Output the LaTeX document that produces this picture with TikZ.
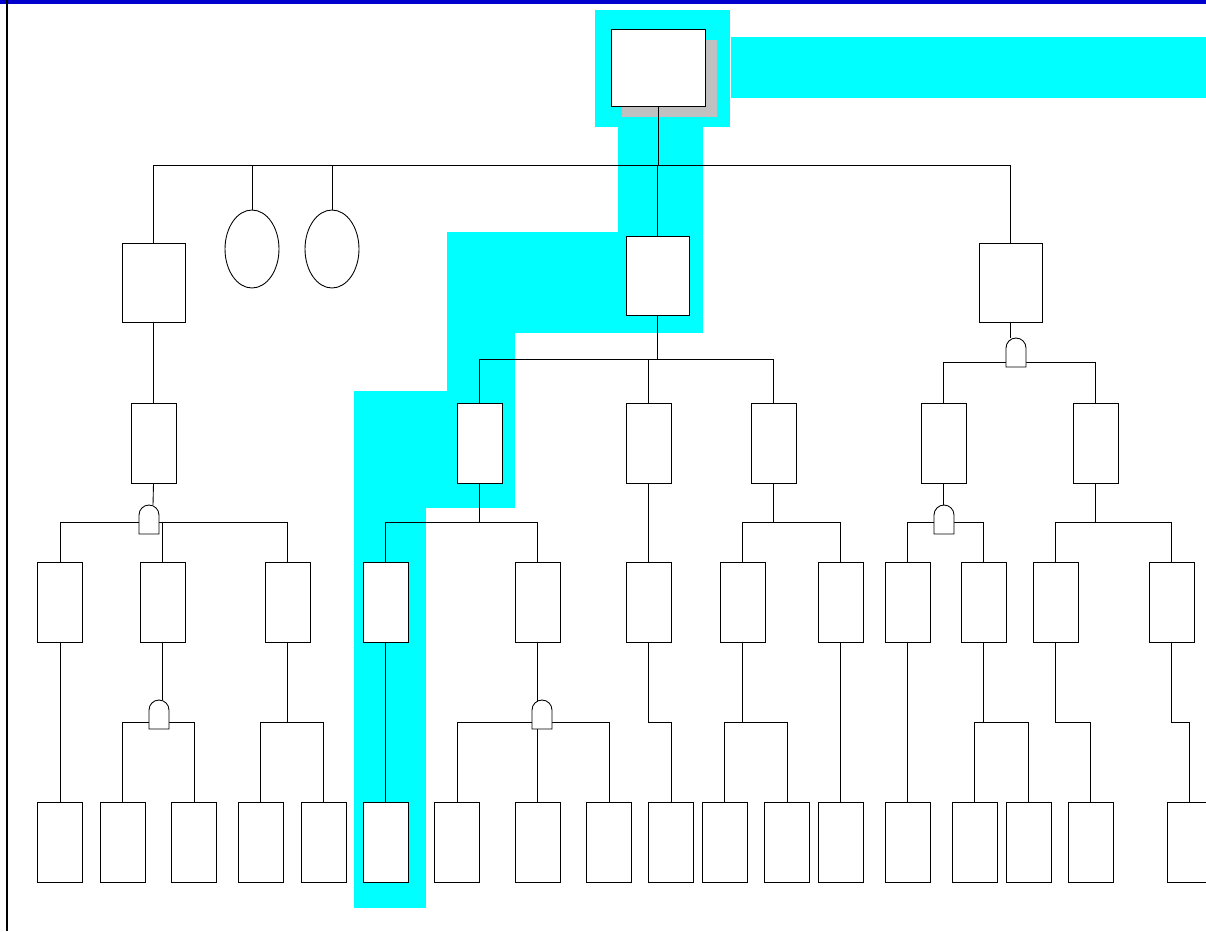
\documentclass[tikz,border=0pt]{standalone}
\usetikzlibrary{shapes.geometric}
\definecolor{hl}{RGB}{0,255,255}
\definecolor{topbar}{RGB}{0,0,205}
\definecolor{shadowgray}{RGB}{192,192,192}
\tikzset{
  wire/.style={line width=0.5pt, draw=black},
  evt/.style={draw=black, line width=0.5pt, fill=white, inner sep=0pt, minimum width=0.9cm, minimum height=1.6cm},
  bigevt/.style={evt, minimum width=1.26cm, minimum height=1.58cm},
  topevt/.style={evt, minimum width=1.88cm, minimum height=1.54cm},
  undev/.style={draw=black, line width=0.5pt, fill=white, ellipse, inner sep=0pt, minimum width=1.08cm, minimum height=1.56cm},
  gatestyle/.style={draw=black, line width=0.5pt, fill=white}
}
\newcommand{\andgate}[2]{% center x, bottom y
  \path[gatestyle] (#1-10,#2) -- (#1-10,#2-19) arc (180:0:0.2cm) -- (#1+10,#2) -- cycle;}
\begin{document}
\begin{tikzpicture}[x=0.02cm,y=-0.02cm]
\useasboundingbox (0,0) rectangle (1206,931);
\clip (0,0) rectangle (1206,931);
% highlight
\fill[hl] (595,10) rectangle (730,127);
\fill[hl] (731,37) rectangle (1206,98);
\fill[hl] (618,127) rectangle (703,333);
\fill[hl] (447,232) rectangle (703,333);
\fill[hl] (447,333) rectangle (515,508);
\fill[hl] (354,391) rectangle (515,508);
\fill[hl] (354,508) rectangle (426,908);
% frame
\fill[topbar] (0,0) rectangle (1206,3.5);
\draw[line width=0.7pt] (7,0) -- (7,931);
% shadow of top event
\fill[shadowgray] (622,40) rectangle (716.5,117);
% nodes
\node[topevt] (top) at (658,67.5) {};
\node[bigevt] (a) at (153.5,282.5) {};
\node[undev] (e1) at (252,249) {};
\node[undev] (e2) at (332,249) {};
\node[bigevt] (b) at (657.5,275.5) {};
\node[bigevt] (c) at (1010.5,282.5) {};
% level 2
\node[evt] (a1) at (153.5,443) {};
\node[evt] (b1) at (479.5,443) {};
\node[evt] (b2) at (648.5,443) {};
\node[evt] (b3) at (773.5,443) {};
\node[evt] (c1) at (943.5,443) {};
\node[evt] (c2) at (1095.5,443) {};
% level 3
\foreach \n/\x in {a11/60,a12/162.5,a13/287.5,b11/385.5,b12/537.5,b21/648.5,b31/742.5,b32/840.5,c11/907.5,c12/983.5,c21/1055.5,c22/1171.5}
  \node[evt] (\n) at (\x,602.5) {};
% level 4
\foreach \n/\x in {d1/60,d2/122.5,d3/194,d4/260.5,d5/323.5,d6/385.5,d7/457,d8/537.5,d9/609,d10/671,d11/724.5,d12/787,d13/840.5,d14/907.5,d15/974.5,d16/1028.5,d17/1090.5,d18/1189.5}
  \node[evt] (\n) at (\x,842) {};
% wires
\foreach \c in {a,e1,e2,b,c}
  \draw[wire] (top.south) -- (top.south |- 0,165) -| (\c.north);
\draw[wire] (a.south) -- (a1.north);
\draw[wire] (a1.south) -- (153,505);
\foreach \c in {a11,a12,a13}
  \draw[wire] (149,522) -| (\c.north);
\draw[wire] (a11.south) -- (d1.north);
\draw[wire] (a12.south) -- (162.5,700);
\foreach \c in {d2,d3}
  \draw[wire] (159,722) -| (\c.north);
\foreach \c in {d4,d5}
  \draw[wire] (a13.south) -- (a13.south |- 0,722) -| (\c.north);
\foreach \c in {b1,b2,b3}
  \draw[wire] (b.south) -- (b.south |- 0,359) -| (\c.north);
\foreach \c in {b11,b12}
  \draw[wire] (b1.south) -- (b1.south |- 0,522) -| (\c.north);
\draw[wire] (b11.south) -- (d6.north);
\draw[wire] (b12.south) -- (d8.north);
\foreach \c in {d7,d9}
  \draw[wire] (542,722) -| (\c.north);
\draw[wire] (b2.south) -- (b21.north);
\draw[wire] (b21.south) -- (b21.south |- 0,722) -| (d10.north);
\foreach \c in {b31,b32}
  \draw[wire] (b3.south) -- (b3.south |- 0,522) -| (\c.north);
\foreach \c in {d11,d12}
  \draw[wire] (b31.south) -- (b31.south |- 0,722) -| (\c.north);
\draw[wire] (b32.south) -- (d13.north);
\draw[wire] (c.south) -- (c.south |- 0,338);
\foreach \c in {c1,c2}
  \draw[wire] (1016,362.5) -| (\c.north);
\draw[wire] (c1.south) -- (c1.south |- 0,505);
\foreach \c in {c11,c12}
  \draw[wire] (944,522) -| (\c.north);
\foreach \c in {c21,c22}
  \draw[wire] (c2.south) -- (c2.south |- 0,522) -| (\c.north);
\draw[wire] (c11.south) -- (d14.north);
\foreach \c in {d15,d16}
  \draw[wire] (c12.south) -- (c12.south |- 0,722) -| (\c.north);
\draw[wire] (c21.south) -- (c21.south |- 0,722) -| (d17.north);
\draw[wire] (c22.south) -- (c22.south |- 0,722) -| (d18.north);
% gates
\andgate{149}{534}
\andgate{159}{729}
\andgate{542}{729}
\andgate{1016}{367}
\andgate{944}{534}
\end{tikzpicture}
\end{document}
